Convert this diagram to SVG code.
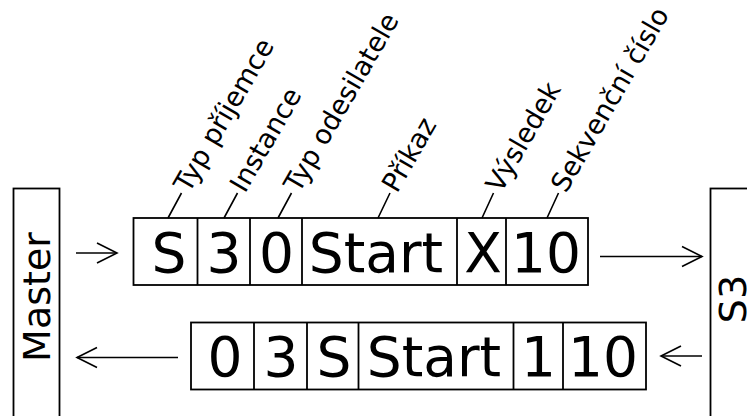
<svg xmlns="http://www.w3.org/2000/svg" width="747" height="416" viewBox="0 0 747 416">
<defs>
<style>
.box{fill:#fff;stroke:#000;stroke-width:1.8}
.cell{fill:none;stroke:#000;stroke-width:1.8}
.big{font-family:"DejaVu Sans",Verdana,sans-serif;font-size:55px;fill:#000;text-anchor:middle}
.side{font-family:"DejaVu Sans",Verdana,sans-serif;font-size:38px;fill:#000;text-anchor:middle}
.lab{font-family:"DejaVu Sans",Verdana,sans-serif;font-size:27px;fill:#000}
.conn{stroke:#000;stroke-width:1.6;fill:none}
</style>
<marker id="ah" markerUnits="userSpaceOnUse" markerWidth="26" markerHeight="26" refX="22" refY="12" orient="auto">
<path d="M2,2 L22,12 L2,22" fill="none" stroke="#000" stroke-width="1.6"/>
</marker>
</defs>
<rect width="747" height="416" fill="#fff"/>

<g id="master">
<rect class="box" x="13.5" y="188.5" width="46" height="240"/>
<text class="side" transform="translate(50,297) rotate(-90)">Master</text>
</g>

<g id="s3">
<rect class="box" x="710.5" y="188.5" width="60" height="240"/>
<text class="side" transform="translate(745.5,299) rotate(-90)">S3</text>
</g>

<g id="request">
<rect class="cell" x="133.5" y="218" width="454.5" height="67"/>
<path class="cell" d="M197.5,218V285M250,218V285M302,218V285M457,218V285M506,218V285"/>
<text class="big" x="169" y="271.5">S</text>
<text class="big" x="224" y="271.5">3</text>
<text class="big" x="276.5" y="271.5">0</text>
<text class="big" x="376" y="271.5">Start</text>
<text class="big" x="483" y="271.5">X</text>
<text class="big" x="546" y="271.5">10</text>
</g>

<g id="response">
<rect class="cell" x="191" y="322.5" width="455" height="67"/>
<path class="cell" d="M254,322.5V389.5M307,322.5V389.5M358.5,322.5V389.5M513.5,322.5V389.5M563,322.5V389.5"/>
<text class="big" x="225" y="375.5">0</text>
<text class="big" x="281" y="375.5">3</text>
<text class="big" x="334" y="375.5">S</text>
<text class="big" x="434" y="375.5">Start</text>
<text class="big" x="538.5" y="375.5">1</text>
<text class="big" x="603" y="375.5">10</text>
</g>

<g id="labels">
<text class="lab" transform="translate(189,194) rotate(-60)">Typ příjemce</text>
<text class="lab" transform="translate(245,194) rotate(-60)">Instance</text>
<text class="lab" transform="translate(299,194) rotate(-60)">Typ odesilatele</text>
<text class="lab" transform="translate(397,194) rotate(-60)">Příkaz</text>
<text class="lab" transform="translate(501,194) rotate(-60)">Výsledek</text>
<text class="lab" transform="translate(566,194) rotate(-60)">Sekvenční číslo</text>
</g>

<g id="connectors">
<path class="conn" d="M168,218L181.5,193M224,218L237.5,193M278,218L291.5,193M378,218L390,193M482,218L493.5,193M547,218L558.5,193"/>
<line class="conn" x1="76" y1="253" x2="117" y2="253" marker-end="url(#ah)"/>
<line class="conn" x1="600" y1="256.5" x2="702" y2="256.5" marker-end="url(#ah)"/>
<line class="conn" x1="178" y1="357.5" x2="77" y2="357.5" marker-end="url(#ah)"/>
<line class="conn" x1="702" y1="356" x2="661" y2="356" marker-end="url(#ah)"/>
</g>
</svg>
